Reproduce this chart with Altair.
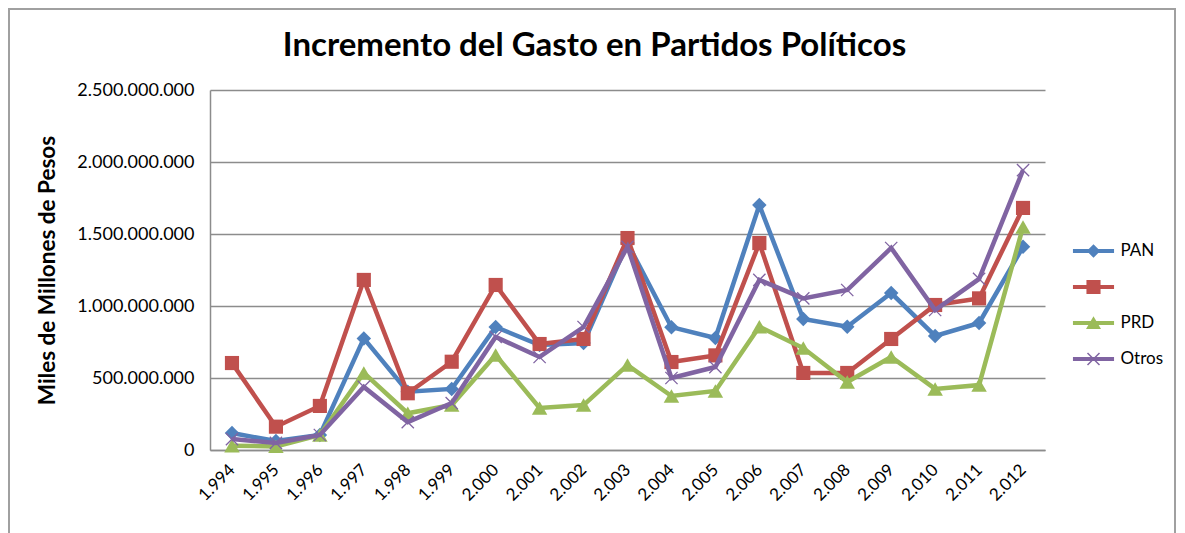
import altair as alt
import pandas as pd

years = ["1.994", "1.995", "1.996", "1.997", "1.998", "1.999", "2.000", "2.001", "2.002", "2.003",
         "2.004", "2.005", "2.006", "2.007", "2.008", "2.009", "2.010", "2.011", "2.012"]
series_names = ["PAN", " ", "PRD", "Otros"]
pan = [118e6, 62e6, 105e6, 775e6, 405e6, 424e6, 854e6, 729e6, 743e6, 1437e6,
       853e6, 778e6, 1701e6, 910e6, 856e6, 1090e6, 792e6, 882e6, 1411e6]
pri = [604e6, 162e6, 306e6, 1181e6, 394e6, 613e6, 1146e6, 736e6, 771e6, 1472e6,
       611e6, 657e6, 1437e6, 535e6, 535e6, 771e6, 1007e6, 1053e6, 1681e6]
prd = [30e6, 25e6, 104e6, 535e6, 255e6, 312e6, 660e6, 292e6, 312e6, 590e6,
       375e6, 410e6, 856e6, 708e6, 472e6, 646e6, 424e6, 451e6, 1549e6]
otros = [76e6, 49e6, 104e6, 438e6, 194e6, 326e6, 785e6, 646e6, 854e6, 1411e6,
         500e6, 576e6, 1181e6, 1053e6, 1111e6, 1403e6, 972e6, 1188e6, 1944e6]
y_ticks = [0, 500e6, 1000e6, 1500e6, 2000e6, 2500e6]

colors = ["#4F81BD", "#C0504D", "#9BBB59", "#8064A2"]

rows = []
for name, vals in zip(series_names, [pan, pri, prd, otros]):
    for yr, v in zip(years, vals):
        rows.append({"anio": yr, "serie": name, "valor": v})
df = pd.DataFrame(rows)

FONT = "Lato"
GRID = "#8C8C8C"

x_enc = alt.X("anio:O", sort=years, scale=alt.Scale(domain=years, padding=0.5),
              axis=alt.Axis(title=None, labelAngle=-45, labelAlign="right", labelBaseline="middle",
                            labelPadding=17, ticks=False, grid=False, labelFontSize=17,
                            labelFont=FONT, labelColor="black", domainColor=GRID, domainWidth=1.5))
y_enc = alt.Y("valor:Q", scale=alt.Scale(domain=[0, 2500e6], nice=False),
              axis=alt.Axis(title="Miles de Millones de Pesos", values=y_ticks,
                            labelExpr="replace(format(datum.value, ','), /,/g, '.')",
                            ticks=False, labelPadding=16, labelFontSize=18, labelFont=FONT,
                            labelColor="black", grid=True, gridColor=GRID, gridWidth=1.5,
                            domainColor=GRID, domainWidth=1.5,
                            titleFont=FONT, titleFontSize=22.5, titleFontWeight="bold",
                            titleColor="black", titleX=-163, titleY=180,
                            titleBaseline="middle", titleAlign="center", titleAngle=-90))

marker_defs = [
    dict(shape="diamond", size=210, filled=True, strokeWidth=0),
    dict(shape="square", size=200, filled=True, strokeWidth=0),
    dict(shape="triangle-up", size=240, filled=True, strokeWidth=0),
    dict(shape="M-1,-1L1,1M-1,1L1,-1", size=150, filled=False, strokeWidth=1.3),
]

layers = []
frame = alt.Chart(pd.DataFrame({"k": [0]})).mark_rect(
    fillOpacity=0, stroke="#A0A0A0", strokeWidth=2).encode(
    x=alt.value(-201), x2=alt.value(965), y=alt.value(-81), y2=alt.value(470))
layers.append(frame)

for name, col, mk in zip(series_names, colors, marker_defs):
    base = alt.Chart(df).transform_filter(alt.datum.serie == name)
    line = base.mark_line(color=col, strokeWidth=4.5).encode(x=x_enc, y=y_enc)
    pts = base.mark_point(color=col, opacity=1, **mk).encode(x=x_enc, y=y_enc)
    layers += [line, pts]

legend_paths = [
    "M-1.37,-0.133H1.37V0.133H-1.37Z M0,-0.45L0.45,0L0,0.45L-0.45,0Z",
    "M-1.37,-0.133H1.37V0.133H-1.37Z M-0.47,-0.47H0.47V0.47H-0.47Z",
    "M-1.37,-0.133H1.37V0.133H-1.37Z M0,-0.45L0.5,0.4H-0.5Z",
    "M-1.37,-0.133H1.37V0.133H-1.37Z M-0.365,-0.435L0.435,0.365L0.365,0.435L-0.435,-0.365Z M-0.435,0.365L0.365,-0.435L0.435,-0.365L-0.365,0.435Z",
]
leg = alt.Legend(orient="none", legendX=868.5, legendY=146, title=None, symbolSize=900,
                 symbolStrokeWidth=0, labelFont=FONT, labelFontSize=17, labelColor="black",
                 labelOffset=12, rowPadding=13, symbolOpacity=1)
legend_layer = alt.Chart(df).transform_filter("false").mark_point(filled=True, size=900).encode(
    x=x_enc, y=y_enc,
    color=alt.Color("serie:N", scale=alt.Scale(domain=series_names, range=colors), legend=leg),
    shape=alt.Shape("serie:N", scale=alt.Scale(domain=series_names, range=legend_paths), legend=leg),
)
layers.append(legend_layer)

chart = alt.layer(*layers).properties(
    width=835, height=360,
    autosize=alt.AutoSizeParams(type="none"),
    padding={"left": 202, "top": 82, "right": 131, "bottom": 85},
    background="white",
    title=alt.TitleParams("Incremento del Gasto en Partidos Políticos", font=FONT, fontSize=33,
                          fontWeight="bold", color="black", anchor="middle", frame="group",
                          dx=-33, offset=-81, baseline="alphabetic"),
).configure_view(strokeWidth=0)

chart.save("out.html", embed_options={"renderer": "svg", "actions": False})
